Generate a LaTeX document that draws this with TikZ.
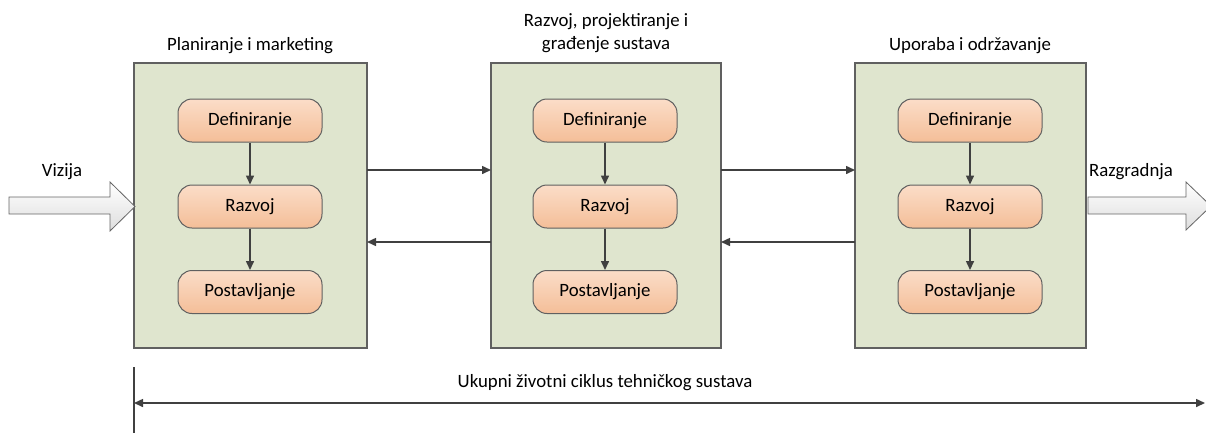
\documentclass[tikz,border=0pt]{standalone}
\usepackage{fontspec}
\setmainfont{Carlito}
\usetikzlibrary{arrows.meta}
\definecolor{boxgreen}{RGB}{223,229,206}
\definecolor{boxedge}{RGB}{96,96,96}
\definecolor{orgtop}{RGB}{251,221,200}
\definecolor{orgbot}{RGB}{244,190,152}
\definecolor{lnc}{RGB}{64,64,64}
\definecolor{bigtop}{RGB}{255,255,255}
\definecolor{bigbot}{RGB}{222,222,222}
\begin{document}
\begin{tikzpicture}[x=1pt,y=-1pt,
  font=\fontsize{18.8}{23}\selectfont,
  phase/.style={draw=boxedge, line width=1.2pt, fill=boxgreen, minimum height=285pt, inner sep=0pt},
  stepbox/.style={draw=boxedge, line width=1pt, top color=orgtop, bottom color=orgbot, rounded corners=14pt, minimum width=144pt, minimum height=43pt, inner sep=0pt},
  conn/.style={draw=lnc, line width=1.5pt, -{Triangle[length=9pt,width=8pt]}},
  dimline/.style={draw=lnc, line width=1.5pt, {Triangle[length=9pt,width=8pt]}-{Triangle[length=9pt,width=8pt]}},
  bigarrow/.style={draw=gray!80!black, line width=0.8pt, top color=bigtop, bottom color=bigbot},
  lbl/.style={inner sep=0pt, align=center, text=black}
]
\useasboundingbox (0,0) rectangle (1206,432);
\clip (0,0) rectangle (1206,432);

% phases
\node[phase, minimum width=233pt] (p1) at (250.5,205.5) {};
\node[phase, minimum width=230pt] (p2) at (606,205.5) {};
\node[phase, minimum width=231pt] (p3) at (970.5,205.5) {};

% titles
\node[lbl] (t1) at (250,46) {Planiranje i marketing};
\node[lbl] (t2) at (606,33) {Razvoj, projektiranje i\\građenje sustava};
\node[lbl] (t3) at (970,46) {Uporaba i održavanje};

% inner steps
\foreach \i/\x in {1/250,2/605,3/970}{
  \node[stepbox] (d\i) at (\x,120.5) {Definiranje};
  \node[stepbox] (r\i) at (\x,206.5) {Razvoj};
  \node[stepbox] (s\i) at (\x,292) {Postavljanje};
  \draw[conn] (d\i) -- (r\i);
  \draw[conn] (r\i) -- (s\i);
}

% connectors between phases
\coordinate (a1) at (367,170);
\coordinate (a2) at (491,170);
\coordinate (b1) at (367,242);
\coordinate (b2) at (491,242);
\coordinate (a3) at (721,170);
\coordinate (a4) at (855,170);
\coordinate (b3) at (721,242);
\coordinate (b4) at (855,242);
\draw[conn] (a1) -- (a2);
\draw[conn] (b2) -- (b1);
\draw[conn] (a3) -- (a4);
\draw[conn] (b4) -- (b3);

% big arrows
\draw[bigarrow] (9,197) -- (110,197) -- (110,182) -- (135,206.5) -- (110,231) -- (110,214) -- (9,214) -- cycle;
\node[lbl] (viz) at (62,172) {Vizija};
\draw[bigarrow] (1088,197) -- (1186,197) -- (1186,182) -- (1211,206) -- (1186,230) -- (1186,214) -- (1088,214) -- cycle;
\node[lbl] (raz) at (1131,172) {Razgradnja};

% total life cycle
\coordinate (v1) at (134,367);
\coordinate (v2) at (134,434);
\draw[draw=lnc, line width=1.5pt] (v1) -- (v2);
\coordinate (h1) at (134,403);
\coordinate (h2) at (1205,403);
\draw[dimline] (h1) -- (h2);
\node[lbl] (tot) at (605,383) {Ukupni životni ciklus tehničkog sustava};
\end{tikzpicture}
\end{document}
